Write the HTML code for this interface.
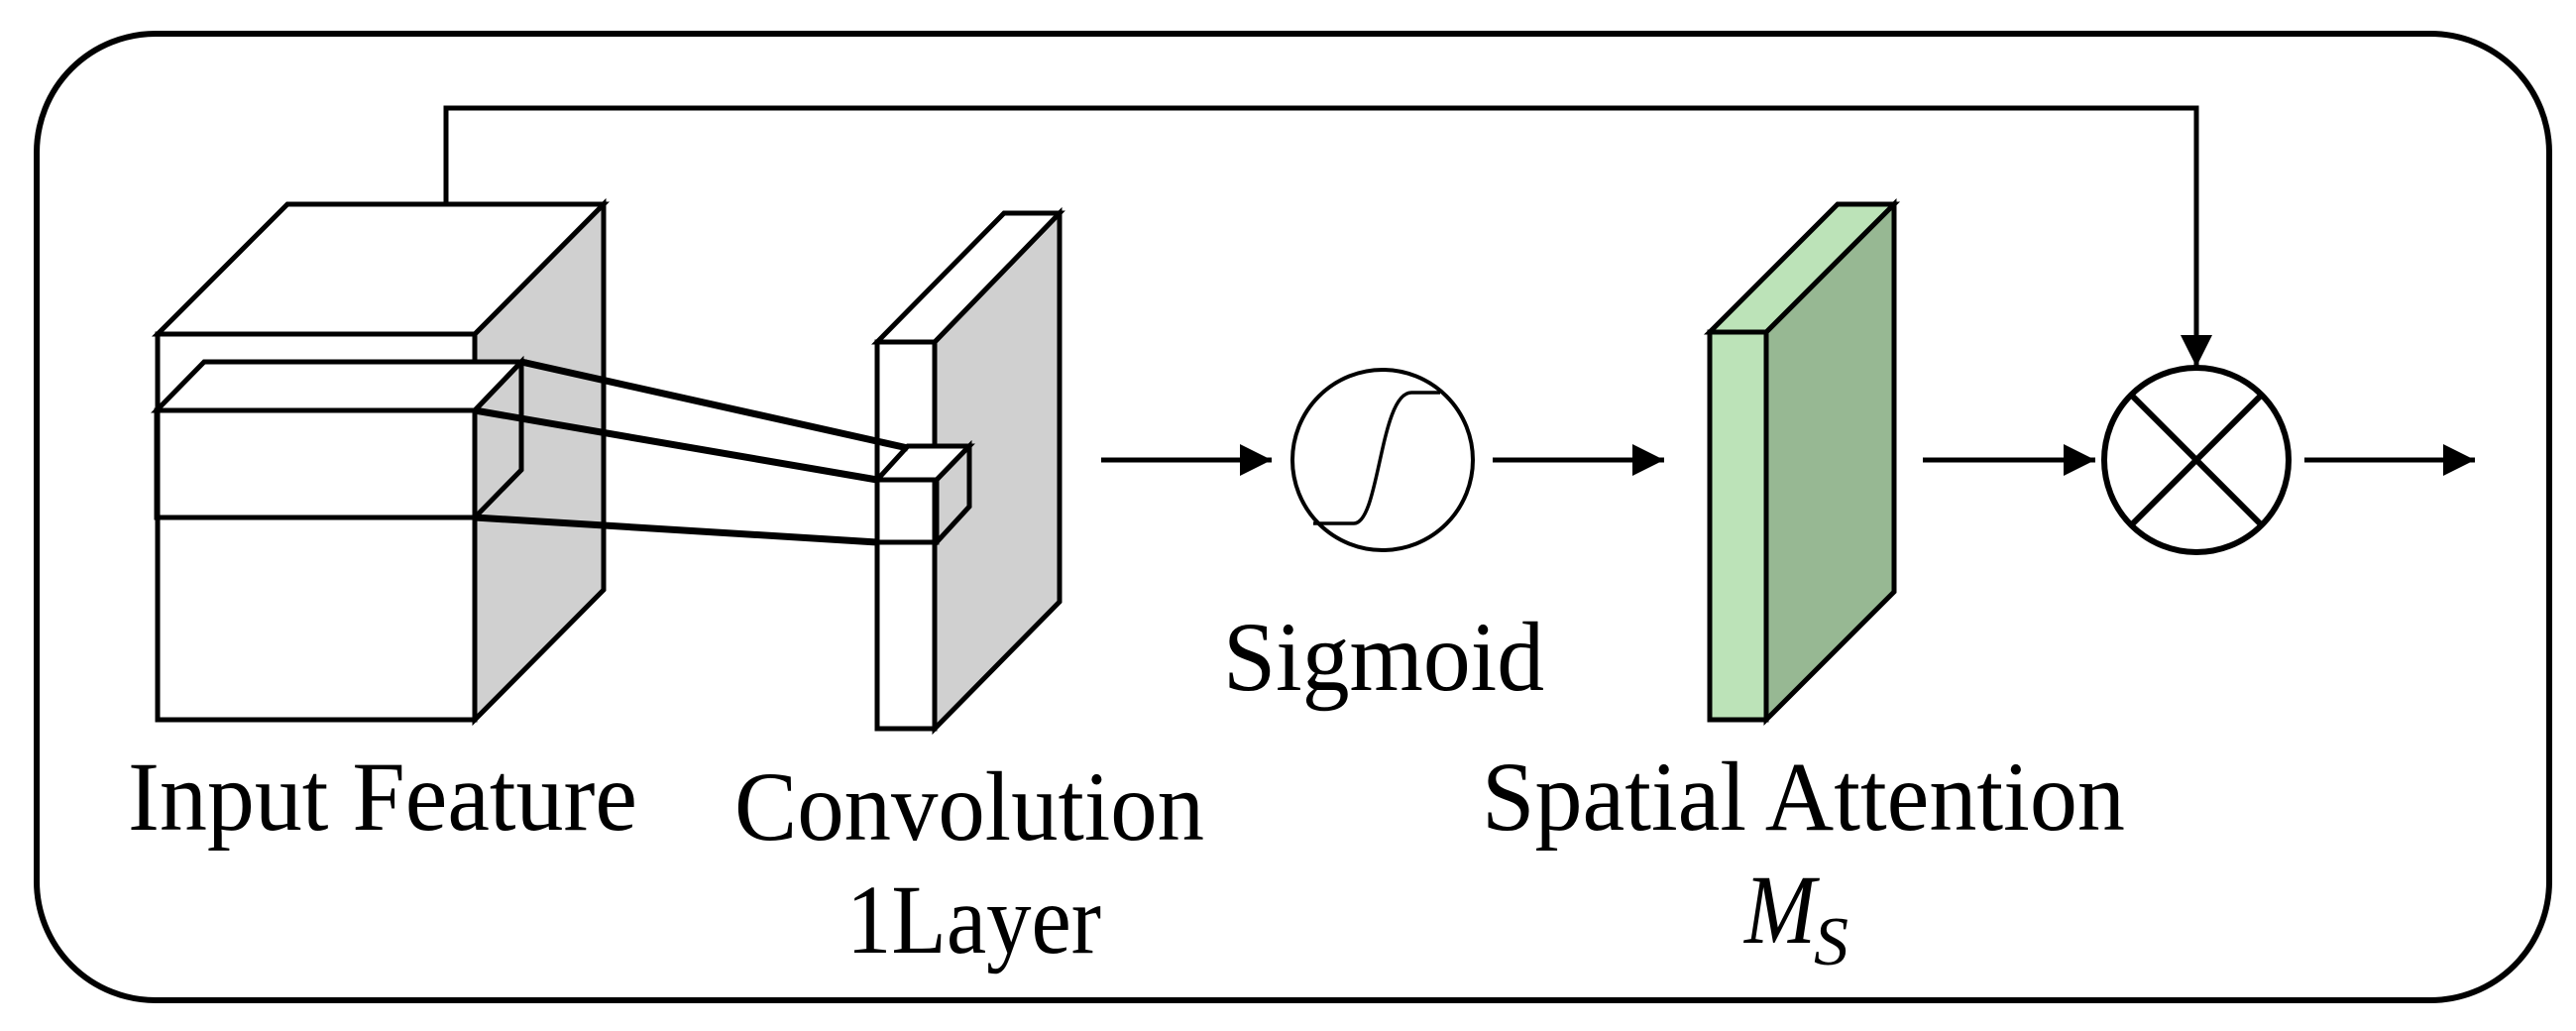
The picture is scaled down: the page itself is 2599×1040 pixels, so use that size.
<!DOCTYPE html>
<html><head><meta charset="utf-8"><style>html,body{margin:0;padding:0;background:#fff}svg{display:block}</style></head>
<body>
<svg width="2599" height="1040" viewBox="0 0 2599 1040" xmlns="http://www.w3.org/2000/svg">
<defs>
<marker id="a2" viewBox="0 0 10 10" refX="10" refY="5" markerWidth="36" markerHeight="32" orient="auto" markerUnits="userSpaceOnUse"><path d="M0,0 L10,5 L0,10 z" fill="#000"/></marker></defs>
<rect x="37" y="34" width="2535" height="975" rx="120" ry="120" fill="#fff" stroke="#000" stroke-width="6"/>
<g stroke="#000" stroke-width="5" stroke-linejoin="miter" fill="none">
<polyline points="450,204 450,109 2216,109 2216,370" marker-end="url(#a2)"/>
<polygon points="479,337 609,206 609,595 479,726" fill="#d0d0d0"/>
<polygon points="159,337 290,206 609,206 479,337" fill="#fff"/>
<rect x="159" y="337" width="320" height="389" fill="#fff"/>
<polygon points="158,414 206,365 526,365 479,414" fill="#fff"/>
<polygon points="479,414 526,365 526,474 479,522"/>
<rect x="158" y="414" width="321" height="108"/>
<polygon points="943,345 1069,215 1069,607 943,735" fill="#d0d0d0"/>
<polygon points="885,345 1013,215 1069,215 943,345" fill="#fff"/>
<rect x="885" y="345" width="58" height="390" fill="#fff"/>
<polygon points="885,484 916,450 978,450 945,484" fill="#fff"/>
<polygon points="945,484 978,450 978,511 945,547" fill="#d0d0d0"/>
<rect x="885" y="484" width="60" height="63"/>
<g stroke-width="7"><line x1="526" y1="365" x2="916" y2="452"/><line x1="479" y1="414" x2="885" y2="484"/><line x1="479" y1="522" x2="885" y2="547"/></g>
<line x1="1111" y1="464" x2="1283" y2="464" marker-end="url(#a2)"/>
<line x1="1506" y1="464" x2="1679" y2="464" marker-end="url(#a2)"/>
<line x1="1940" y1="464" x2="2114" y2="464" marker-end="url(#a2)"/>
<line x1="2325" y1="464" x2="2497" y2="464" marker-end="url(#a2)"/>
<circle cx="1395" cy="464" r="91" fill="#fff" stroke-width="4"/>
<path d="M1325,528 L1366,528 C1392,528 1392,396 1424,396 L1453,396" stroke-width="3.5"/>
<polygon points="1782,335 1911,206 1911,597 1782,726" fill="#97b893"/>
<polygon points="1725,335 1854,206 1911,206 1782,335" fill="#bce3b8"/>
<rect x="1725" y="335" width="57" height="391" fill="#bce3b8"/>
<circle cx="2216" cy="464" r="93" fill="#fff" stroke-width="6"/>
<line x1="2150" y1="398" x2="2282" y2="530" stroke-width="6"/><line x1="2282" y1="398" x2="2150" y2="530" stroke-width="6"/>
</g>
<g font-family="Liberation Serif, serif" font-size="100" fill="#000">
<text x="129" y="837" textLength="514" lengthAdjust="spacingAndGlyphs">Input Feature</text>
<text x="741" y="847" textLength="474" lengthAdjust="spacingAndGlyphs">Convolution</text>
<text x="854" y="961" textLength="257" lengthAdjust="spacingAndGlyphs">1Layer</text>
<text x="1234" y="696" textLength="324" lengthAdjust="spacingAndGlyphs">Sigmoid</text>
<text x="1495" y="837" textLength="649" lengthAdjust="spacingAndGlyphs">Spatial Attention</text>
<text x="1760" y="951" font-style="italic" textLength="72" lengthAdjust="spacingAndGlyphs">M</text>
<text x="1830" y="973" font-style="italic" font-size="70">S</text>
</g>
</svg>
</body></html>
